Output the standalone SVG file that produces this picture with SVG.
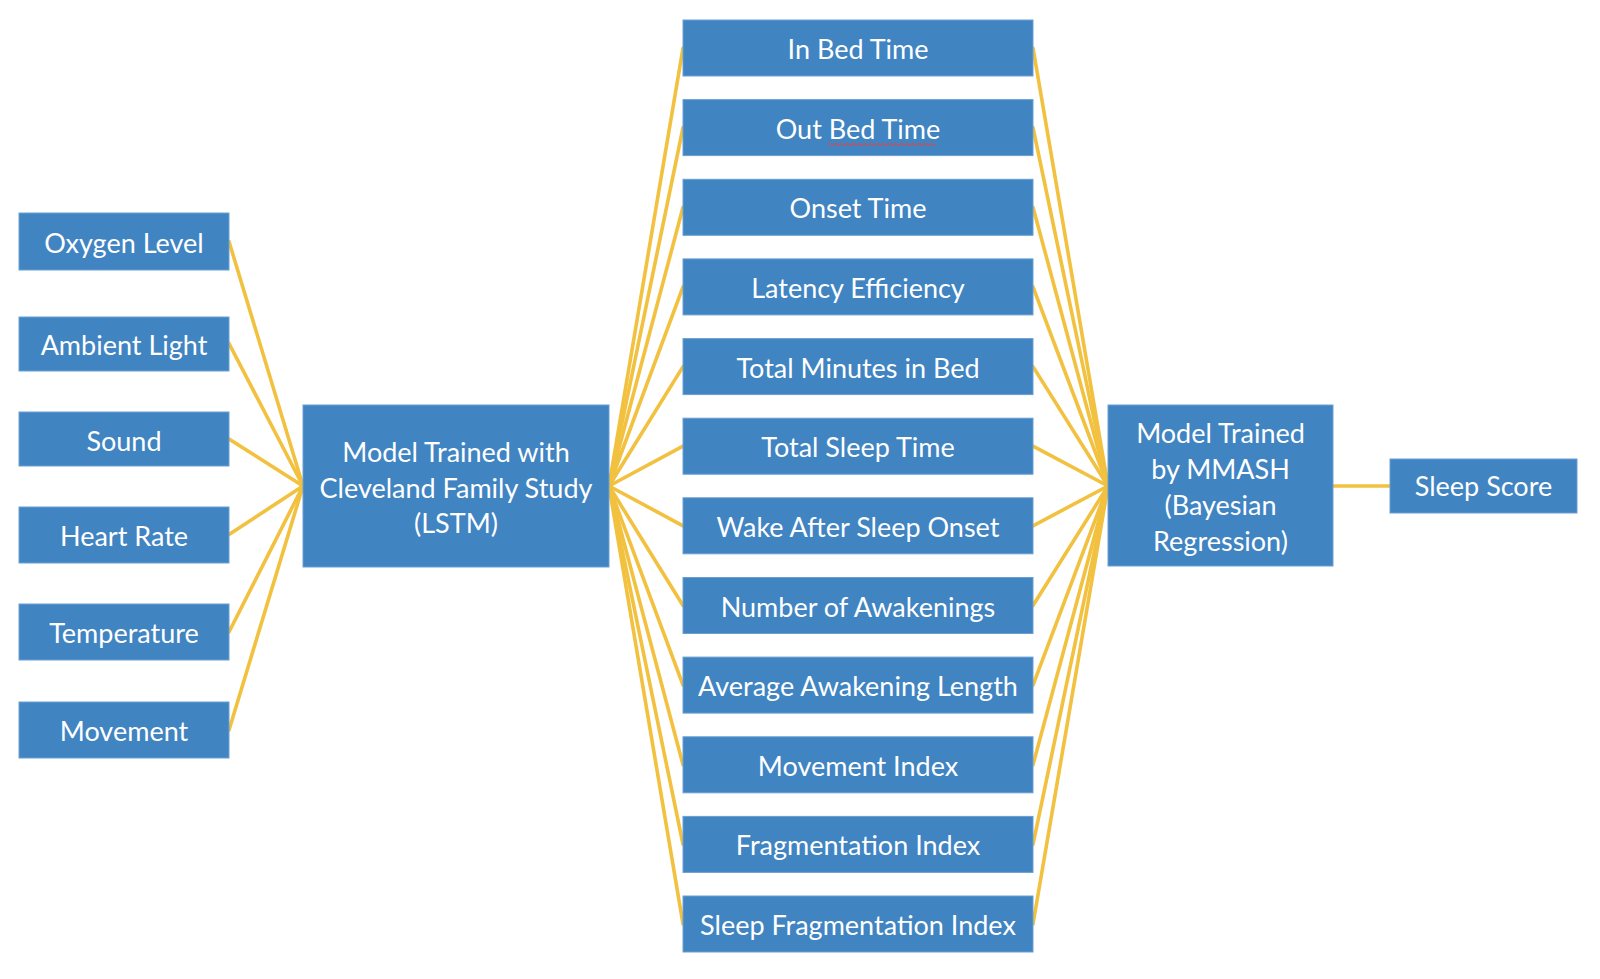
<svg xmlns="http://www.w3.org/2000/svg" width="1600" height="979" viewBox="0 0 1600 979">
<style>
.box{fill:#4084C2;stroke:#6A9FD3;stroke-width:1}
.t{font-family:Lato,"Open Sans","Liberation Sans",sans-serif;font-size:27px;fill:#FFFFFF;text-anchor:middle}
.c{stroke:#F1C13F;stroke-width:3.6;fill:none;stroke-linecap:round}
</style>
<rect width="1600" height="979" fill="#FFFFFF"/>
<g id="connectors">
<line class="c" x1="229" y1="241.5" x2="303" y2="486"/>
<line class="c" x1="229" y1="343.5" x2="303" y2="486"/>
<line class="c" x1="229" y1="439" x2="303" y2="486"/>
<line class="c" x1="229" y1="534.5" x2="303" y2="486"/>
<line class="c" x1="229" y1="632" x2="303" y2="486"/>
<line class="c" x1="229" y1="730" x2="303" y2="486"/>
<line class="c" x1="609" y1="486" x2="683" y2="48"/>
<line class="c" x1="609" y1="486" x2="683" y2="127.6"/>
<line class="c" x1="609" y1="486" x2="683" y2="207.3"/>
<line class="c" x1="609" y1="486" x2="683" y2="286.9"/>
<line class="c" x1="609" y1="486" x2="683" y2="366.6"/>
<line class="c" x1="609" y1="486" x2="683" y2="446.2"/>
<line class="c" x1="609" y1="486" x2="683" y2="525.8"/>
<line class="c" x1="609" y1="486" x2="683" y2="605.5"/>
<line class="c" x1="609" y1="486" x2="683" y2="685.1"/>
<line class="c" x1="609" y1="486" x2="683" y2="764.8"/>
<line class="c" x1="609" y1="486" x2="683" y2="844.4"/>
<line class="c" x1="609" y1="486" x2="683" y2="924"/>
<line class="c" x1="1033" y1="48" x2="1108" y2="486"/>
<line class="c" x1="1033" y1="127.6" x2="1108" y2="486"/>
<line class="c" x1="1033" y1="207.3" x2="1108" y2="486"/>
<line class="c" x1="1033" y1="286.9" x2="1108" y2="486"/>
<line class="c" x1="1033" y1="366.6" x2="1108" y2="486"/>
<line class="c" x1="1033" y1="446.2" x2="1108" y2="486"/>
<line class="c" x1="1033" y1="525.8" x2="1108" y2="486"/>
<line class="c" x1="1033" y1="605.5" x2="1108" y2="486"/>
<line class="c" x1="1033" y1="685.1" x2="1108" y2="486"/>
<line class="c" x1="1033" y1="764.8" x2="1108" y2="486"/>
<line class="c" x1="1033" y1="844.4" x2="1108" y2="486"/>
<line class="c" x1="1033" y1="924" x2="1108" y2="486"/>
<line class="c" x1="1333" y1="486" x2="1390" y2="486"/>
</g>
<g id="oxygen-level"><rect class="box" x="19" y="213" width="210" height="57"/><text class="t" x="124" y="253">Oxygen Level</text></g>
<g id="ambient-light"><rect class="box" x="19" y="317" width="210" height="54"/><text class="t" x="124" y="355">Ambient Light</text></g>
<g id="sound"><rect class="box" x="19" y="412" width="210" height="54"/><text class="t" x="124" y="451">Sound</text></g>
<g id="heart-rate"><rect class="box" x="19" y="507" width="210" height="56"/><text class="t" x="124" y="546">Heart Rate</text></g>
<g id="temperature"><rect class="box" x="19" y="604" width="210" height="56"/><text class="t" x="124" y="643">Temperature</text></g>
<g id="movement"><rect class="box" x="19" y="702" width="210" height="56"/><text class="t" x="124" y="741">Movement</text></g>
<g id="lstm-model"><rect class="box" x="303" y="405" width="306" height="162"/>
<text class="t" x="456" y="462">Model Trained with</text>
<text class="t" x="456" y="498">Cleveland Family Study</text>
<text class="t" x="456" y="533">(LSTM)</text></g>
<g id="in-bed-time"><rect class="box" x="683" y="20" width="350" height="56"/><text class="t" x="858" y="59">In Bed Time</text></g>
<g id="out-bed-time"><rect class="box" x="683" y="99.6" width="350" height="56"/><text class="t" x="858" y="138.6">Out Bed Time</text><path d="M828 144.5 q1.5 -2 3 0 t3 0 t3 0 t3 0 t3 0 t3 0 t3 0 t3 0 t3 0 t3 0 t3 0 t3 0 t3 0 t3 0 t3 0 t3 0 t3 0 t3 0 t3 0 t3 0 t3 0 t3 0 t3 0 t3 0 t3 0 t3 0 t3 0 t3 0 t3 0 t3 0 t3 0 t3 0 t3 0 t3 0 t3 0 t3 0" fill="none" stroke="#E04848" stroke-width="1.2"/></g>
<g id="onset-time"><rect class="box" x="683" y="179.3" width="350" height="56"/><text class="t" x="858" y="218.3">Onset Time</text></g>
<g id="latency-efficiency"><rect class="box" x="683" y="258.9" width="350" height="56"/><text class="t" x="858" y="297.9">Latency Efficiency</text></g>
<g id="total-minutes-in-bed"><rect class="box" x="683" y="338.6" width="350" height="56"/><text class="t" x="858" y="377.6">Total Minutes in Bed</text></g>
<g id="total-sleep-time"><rect class="box" x="683" y="418.2" width="350" height="56"/><text class="t" x="858" y="457.2">Total Sleep Time</text></g>
<g id="wake-after-sleep-onset"><rect class="box" x="683" y="497.8" width="350" height="56"/><text class="t" x="858" y="536.8">Wake After Sleep Onset</text></g>
<g id="number-of-awakenings"><rect class="box" x="683" y="577.5" width="350" height="56"/><text class="t" x="858" y="616.5">Number of Awakenings</text></g>
<g id="average-awakening-length"><rect class="box" x="683" y="657.1" width="350" height="56"/><text class="t" x="858" y="696.1">Average Awakening Length</text></g>
<g id="movement-index"><rect class="box" x="683" y="736.8" width="350" height="56"/><text class="t" x="858" y="775.8">Movement Index</text></g>
<g id="fragmentation-index"><rect class="box" x="683" y="816.4" width="350" height="56"/><text class="t" x="858" y="855.4">Fragmentation Index</text></g>
<g id="sleep-fragmentation-index"><rect class="box" x="683" y="896" width="350" height="56"/><text class="t" x="858" y="935">Sleep Fragmentation Index</text></g>
<g id="mmash-model"><rect class="box" x="1108" y="405" width="225" height="161"/>
<text class="t" x="1220.5" y="443">Model Trained</text>
<text class="t" x="1220.5" y="479">by MMASH</text>
<text class="t" x="1220.5" y="515">(Bayesian</text>
<text class="t" x="1220.5" y="551">Regression)</text></g>
<g id="sleep-score"><rect class="box" x="1390" y="459" width="187" height="54"/><text class="t" x="1483.5" y="496">Sleep Score</text></g>
</svg>
